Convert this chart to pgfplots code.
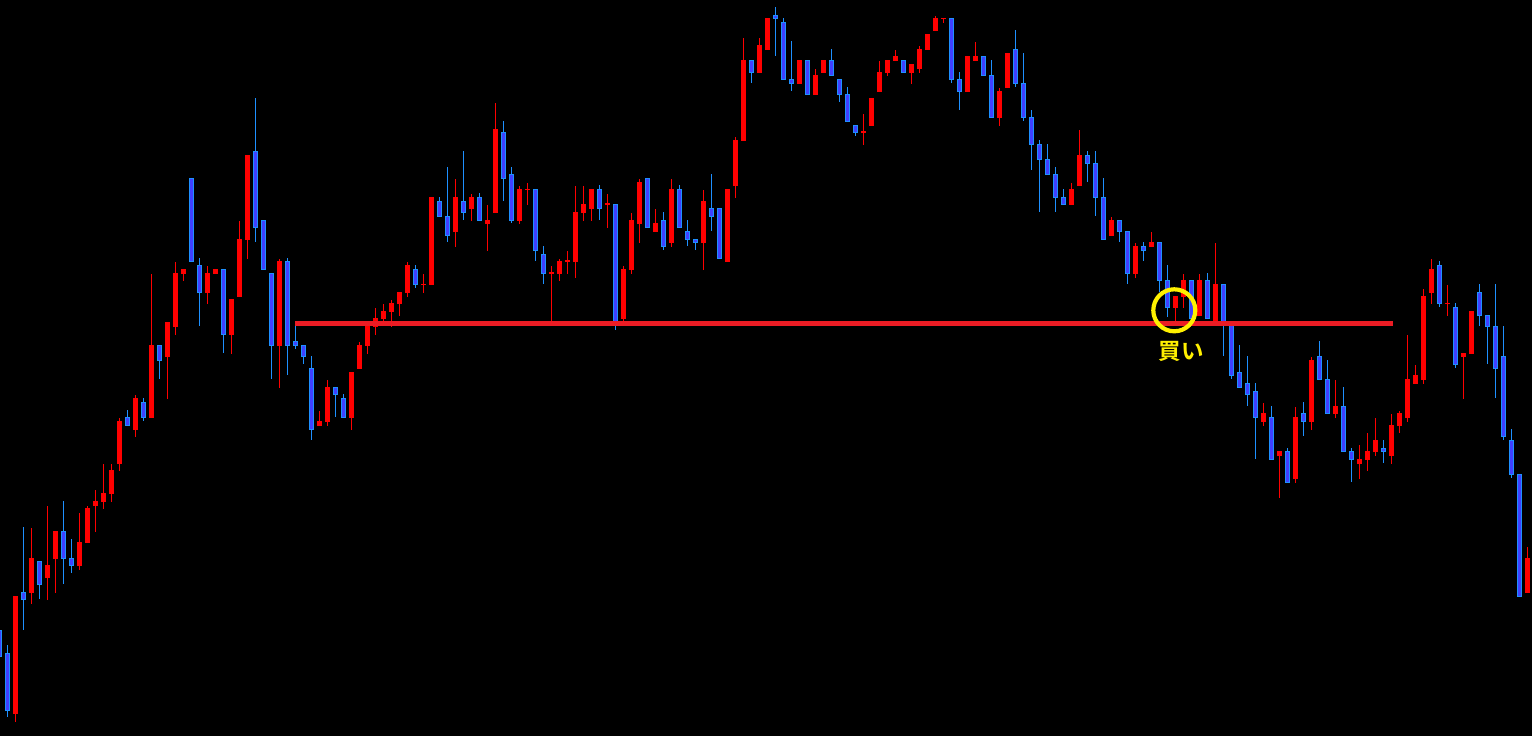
\documentclass[border=0pt]{standalone}
\usepackage{pgfplots}
\usepackage{pgfplotstable}
\pgfplotsset{compat=1.18}
\usepackage{fontspec}
\newfontfamily\cjk{Noto Sans CJK JP}[BoldFont={Noto Sans CJK JP Bold}]
\definecolor{upred}{RGB}{255,0,0}
\definecolor{dnedge}{RGB}{30,144,255}
\definecolor{dnfill}{RGB}{64,64,255}
\definecolor{lvl}{RGB}{235,28,36}
\definecolor{markyel}{RGB}{255,240,0}
% columns: n (candle index), top/bot = body edges, high/low = wick ends (pixel rows)
\pgfplotstableread{
n top bot high low
2 596 713.7 596 721.7
4 558 593 528 603.7
6 565 577.7 506 599.7
7 531 559 531 593
10 542 565.7 513 569.7
11 508 542.7 506 542.7
12 501 505.7 490 531.7
13 493 501.7 464 508.7
14 470 493.7 464 501.7
15 421 463.7 418 470.7
17 398 429.7 395 436.7
19 345 417.7 274 417.7
21 322 356.7 322 398.7
22 273 326.7 262 334.7
23 269 273.7 269 280.7
26 273 292.7 266 303.7
27 269 273.7 269 273.7
29 299 334.7 299 353.7
30 239 296.7 221 296.7
31 155 239.7 155 258.7
35 261 345.7 259 387.7
40 421 425.7 411 425.7
41 387 421.7 380 425.7
44 372 417.7 372 429.7
45 345 368.7 342 368.7
46 322.7 345.7 322.7 353.7
47 318 326.7 308 334.7
48 311 319 304 321.7
49 303 311.7 300 326.7
50 292 303.7 292 315.7
51 265 293 262 297
53 283.6 285 274 292.7
54 197 284.7 197 284.7
57 197 231.7 179 246.7
59 197 208.7 194 220.7
61 220 223.7 205 250.7
62 129 212.7 103 212.7
65 189 220.7 186 223.7
66 188.7 190 183 205
69 272.5 274 266 322
70 261 273.7 259 280.7
71 260.5 262 251 273.7
72 212 261.7 186 277.7
73 204 212.7 186 221
74 189 208.7 189 221
76 203.5 205 194 227.7
78 269 318.7 266 321.7
79 220 269.7 213 273.7
80 182 223.7 179 242.7
82 223 231.7 209 231.7
84 189 242.7 179 246.7
88 201 242.7 190 269.7
91 189 261.7 189 261.7
92 140 185.7 137 197.7
93 60 140.7 38 140.7
95 45 72.7 38 72.7
96 18 49.7 18 49.7
100 60 83.7 60 83.7
102 75 94.7 69 94.7
103 60 72.7 60 72.7
108 131.3 132.7 114 144.7
109 98 125.7 98 125.7
110 72 91.7 61 91.7
111 60 72.7 60 75.7
112 56 60.7 50 60.7
114 64 72.7 64 83.7
115 49 68.7 46 72.7
116 34 49.7 34 49.7
117 18 30.7 16 30.7
118 17.6 19 17.6 22.7
121 56 91.7 56 91.7
122 56 60.7 42 60.7
125 91 117.7 88 125.7
126 53 87.7 53 87.7
134 189 204.7 183 204.7
135 155 185.7 130 185.7
139 220 235.7 217 235.7
142 246 273.7 243 277.7
144 242 246.7 232 246.7
147 296 307.7 296 321
148 280 296.7 274 307.7
150 280 316 274 316
152 284 321.7 243 321.7
158 413 421.7 403 425.7
160 451 455.7 451 497.7
162 417 478.7 407 482.7
164 360 421.7 357 429.7
167 406 413.7 380 417.7
170 459 463.7 445 478.7
171 451 459.7 433 470.7
172 440 451.7 418 455.7
174 425 455.7 414 463.7
175 413 425.7 411 432.7
176 379 417.7 335 421.7
177 375 383.7 365 383.7
178 296 379.7 289 383.7
179 269 292.7 259 303.7
181 302.6 304 285 315.7
183 353 356.7 353 398.7
184 311 353.7 311 353.7
191 558 592.7 547 592.7
}\up
\pgfplotstableread{
n top bot high low
0 630 657 628 660
1 653.3 710.7 645 716.7
3 592.3 599.7 527 630
5 561 584.7 561 599
8 531 558.7 501 583.7
9 558 565.7 539 572.7
16 417 425.7 410 425.7
18 402 417.7 398 420.7
20 345 360.7 345 378.7
24 178 261.7 178 261.7
25 265 292.7 258 325.7
28 269 334.7 269 352.7
32 151 227.7 98 241.7
33 220 269.7 220 269.7
34 273 345.7 273 378.7
36 261 345.7 258 374.7
37 341 345.7 321.7 348.7
38 345.3 356.7 345.3 363.7
39 368.3 429.7 356 440
42 387 394.7 387 416.7
43 398.3 417.7 394 417.7
52 269 284.7 265 287.7
55 201.3 216.7 197 216.7
56 216.3 235.7 167 241.7
58 201.3 212.7 151 219.7
60 197 220.7 193 220.7
63 132 178.7 121 200.7
64 174 220.7 167 222.7
67 189 250.7 189 260.7
68 254 273.7 246 283.7
75 189 208.7 185 220
77 204 324 204 329.7
81 178 227.7 178 227.7
83 220 246.7 212 249.7
85 189 227.7 185 227.7
86 231 239.7 220 245.7
87 239 242.7 239 249.7
89 208 216.7 174 230.7
90 208 258.7 208 258.7
94 60 72.7 60 82.7
97 15 18.7 7 55.7
98 22 79.7 18 79.7
99 79 83.7 41 90.7
101 60 94.7 60 94.7
104 60 75.7 49 75.7
105 79 94.7 79 101.7
106 94 121.7 87 121.7
107 125 132.7 125 135.7
113 60 72.7 60 72.7
119 18 79.7 18 82.7
120 79 91.7 72 109.7
123 56 75.7 56 75.7
124 75 117.7 60 117.7
127 49 83.7 30 86.7
128 83 117.7 53 120.7
129 117 144.7 110 169.7
130 144 159.7 140 211.7
131 159 174.7 144 174.7
132 174 197.7 167 212
133 197 204.7 189 204.7
136 155 163.7 151 181.7
137 163 197.7 151 215.7
138 197 239.7 178 239.7
140 220 231.7 220 241.7
141 231 273.7 231 283.7
143 246 250.7 242 260.7
145 242 280.7 242 291.7
146 280 307.7 265 317
149 280 318.7 280 318.7
151 280 318.7 273 318.7
153 284 321.7 284 355.7
154 322 375.7 322 378.7
155 372 387.7 345 387.7
156 383 394.7 356 405.7
157 391 417.7 383 458.7
159 417 459.7 406 459.7
161 451 482.7 448 482.7
163 413 421.7 402 435.7
165 356 379.7 341 379.7
166 379 413.7 360 413.7
168 406 451.7 387 451.7
169 451 459.7 448 481.7
173 448 451.7 440 462.7
180 265 303.7 261 306.7
182 307 364.7 303 367.7
185 292 315.7 284 325.7
186 315 326.7 315 363.7
187 326 368.7 284 397.7
188 356 436.7 326 439.7
189 440 474.7 429 477.7
190 474 596.7 474 596.7
}\dn
\pgfplotsset{
  wick/.style={draw=none, mark=none, forget plot,
    error bars/.cd, y dir=both, y explicit, error mark=none,
    error bar style={draw=#1, solid, line width=0.1mm}},
  body/.style 2 args={draw=none, mark=none, forget plot,
    error bars/.cd, y dir=both, y explicit, error mark=none,
    error bar style={draw=#1, solid, line width=#2}},
}
\begin{document}
\begin{tikzpicture}
\path[use as bounding box] (0,0) rectangle (15.32cm,7.36cm);
\fill[black] (0,0) rectangle (15.32cm,7.36cm);
\begin{axis}[at={(0,0)}, anchor=south west, scale only axis,
  width=15.32cm, height=7.36cm, xmin=0, xmax=1532, ymin=0, ymax=736,
  y dir=reverse, hide axis, clip=true]
% wicks
\addplot[wick=upred] table[x expr=8*\thisrow{n}-0.67, y expr=(\thisrow{high}+\thisrow{low})/2, y error expr=(\thisrow{low}-\thisrow{high})/2] {\up};
\addplot[wick=dnedge] table[x expr=8*\thisrow{n}-0.67, y expr=(\thisrow{high}+\thisrow{low})/2, y error expr=(\thisrow{low}-\thisrow{high})/2] {\dn};
% bodies
\addplot[body={upred}{0.5mm}] table[x expr=8*\thisrow{n}-0.67, y expr=(\thisrow{top}+\thisrow{bot})/2, y error expr={max((\thisrow{bot}-\thisrow{top})/2,0.6)}] {\up};
\addplot[body={dnedge}{0.5mm}] table[x expr=8*\thisrow{n}-0.67, y expr=(\thisrow{top}+\thisrow{bot})/2, y error expr={max((\thisrow{bot}-\thisrow{top})/2,0.6)}] {\dn};
\addplot[body={dnfill}{0.3mm}] table[x expr=8*\thisrow{n}-0.67, y expr=(\thisrow{top}+\thisrow{bot})/2, y error expr={max((\thisrow{bot}-\thisrow{top})/2-1,0)}] {\dn};
% support line
\addplot[lvl, line width=0.47mm, forget plot] coordinates {(295,323.3) (1393,323.3)};
\draw[markyel, line width=0.42mm] (axis cs:1174.3,310.3) circle[radius=2.1mm];
\node[markyel, font=\cjk\bfseries\fontsize{6.4}{7}\selectfont, inner sep=0pt] at (axis cs:1181,351.5) {買い};
\end{axis}
\end{tikzpicture}
\end{document}
